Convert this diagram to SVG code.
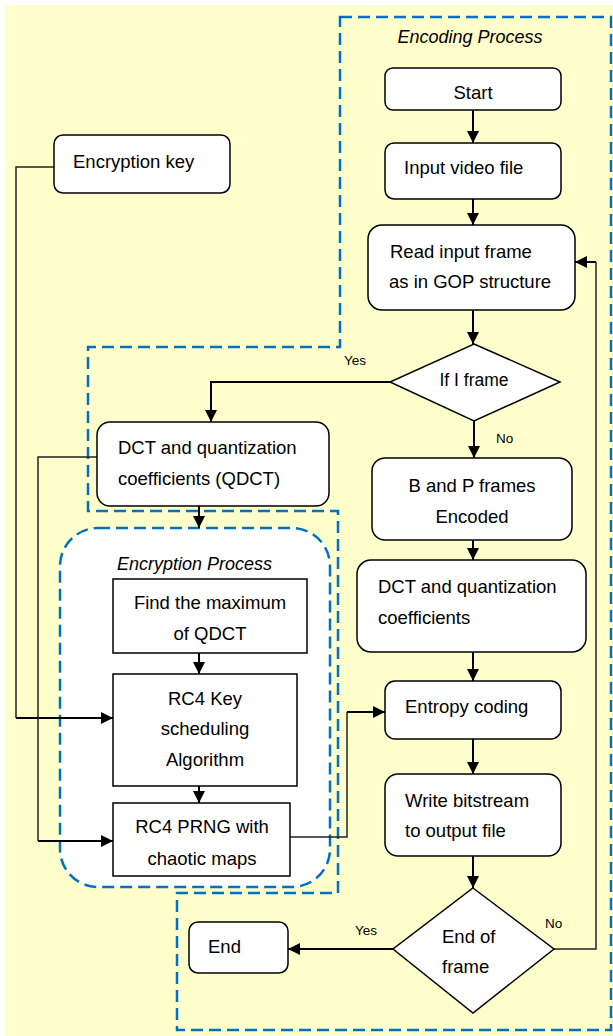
<svg xmlns="http://www.w3.org/2000/svg" width="613" height="1036" viewBox="0 0 613 1036">
<defs>
<marker id="ah" markerUnits="userSpaceOnUse" markerWidth="13" markerHeight="13" refX="12" refY="6" orient="auto">
<path d="M0,0 L12,6 L0,12 z" fill="#000"/>
</marker>
<style>
.t{font-family:"Liberation Sans",Arial,sans-serif;font-size:18.5px;fill:#000}
.c{text-anchor:middle}
.it{font-style:italic;font-size:18px}
.lb{font-family:"Liberation Sans",Arial,sans-serif;font-size:13.5px;fill:#000}
.box{fill:#fff;stroke:#000;stroke-width:1.5}
.dash{fill:none;stroke:#0070C0;stroke-width:2.5;stroke-dasharray:12 6}
.ln{fill:none;stroke:#000;stroke-width:2}
.ar{fill:none;stroke:#000;stroke-width:2;marker-end:url(#ah)}
.thin{fill:none;stroke:#222;stroke-width:1.5}
</style>
</defs>
<rect x="5" y="5" width="608" height="1031" fill="#FFFFCC"/>
<g id="encoding-region">
<polygon class="dash" points="340,17 611,17 611,1030 177,1030 177,893 338,893 338,511 88,511 88,347 340,347"/>
<text class="t it c" x="470" y="43">Encoding Process</text>
</g>
<g id="encryption-region">
<rect x="60" y="528" width="270" height="359" rx="38" ry="38" fill="#fff" stroke="#0070C0" stroke-width="2.5" stroke-dasharray="12 6"/>
<text class="t it" x="117" y="570">Encryption Process</text>
</g>
<g id="connectors">
<path class="ar" d="M473,110 V143"/>
<path class="ar" d="M473,199 V225"/>
<path class="ar" d="M473,310 V344"/>
<path class="ar" d="M474,421 V458"/>
<path class="ar" d="M390,382 H211 V422"/>
<path class="ar" d="M473,540 V560"/>
<path class="ar" d="M473,652 V681"/>
<path class="ar" d="M473,739 V774"/>
<path class="ar" d="M473,856 V888"/>
<path class="ar" d="M393,949 H288"/>
<path class="thin" d="M554,949 H596 V262"/>
<path class="ar" d="M596,262 H575"/>
<path class="thin" d="M54,167 H16 V718"/>
<path class="ar" d="M16,718 H113"/>
<path class="thin" d="M97,457 H38 V841"/>
<path class="ar" d="M38,841 H113"/>
<path class="ar" d="M199,506 V528"/>
<path class="ar" d="M199,653 V674"/>
<path class="ar" d="M199,786 V803"/>
<path class="thin" d="M290,837 H347 V712"/>
<path class="ar" d="M347,712 H385"/>
<text class="lb" x="344" y="365">Yes</text>
<text class="lb" x="496" y="443">No</text>
<text class="lb" x="355" y="935">Yes</text>
<text class="lb" x="545" y="928">No</text>
</g>
<g id="start">
<rect class="box" x="385" y="68" width="176" height="42" rx="8"/>
<text class="t c" x="473" y="99">Start</text>
</g>
<g id="input-video">
<rect class="box" x="385" y="143" width="176" height="56" rx="9"/>
<text class="t" x="404" y="174">Input video file</text>
</g>
<g id="read-frame">
<rect class="box" x="368" y="225" width="207" height="85" rx="14"/>
<text class="t" x="390" y="258">Read input frame</text>
<text class="t" x="389" y="288">as in GOP structure</text>
</g>
<g id="if-i-frame">
<polygon class="box" points="474,344 560,382 474,421 390,382"/>
<text class="t c" x="474" y="386" style="font-size:17.5px">If I frame</text>
</g>
<g id="encryption-key">
<rect class="box" x="54" y="135" width="176" height="58" rx="9"/>
<text class="t" x="73" y="168">Encryption key</text>
</g>
<g id="dct-qdct">
<rect class="box" x="97" y="422" width="232" height="84" rx="13"/>
<text class="t" x="118" y="454">DCT and quantization</text>
<text class="t" x="118" y="485">coefficients (QDCT)</text>
</g>
<g id="find-max">
<rect class="box" x="113" y="579" width="194" height="74"/>
<text class="t c" x="210" y="609">Find the maximum</text>
<text class="t c" x="210" y="640">of QDCT</text>
</g>
<g id="rc4-ksa">
<rect class="box" x="113" y="674" width="184" height="112"/>
<text class="t c" x="205" y="705">RC4 Key</text>
<text class="t c" x="205" y="735">scheduling</text>
<text class="t c" x="205" y="766">Algorithm</text>
</g>
<g id="rc4-prng">
<rect class="box" x="113" y="803" width="177" height="73"/>
<text class="t c" x="202" y="833">RC4 PRNG with</text>
<text class="t c" x="202" y="865">chaotic maps</text>
</g>
<g id="b-p-frames">
<rect class="box" x="372" y="458" width="200" height="82" rx="13"/>
<text class="t c" x="472" y="492">B and P frames</text>
<text class="t c" x="472" y="523">Encoded</text>
</g>
<g id="dct-coeff">
<rect class="box" x="357" y="560" width="229" height="92" rx="14"/>
<text class="t" x="378" y="593">DCT and quantization</text>
<text class="t" x="378" y="624">coefficients</text>
</g>
<g id="entropy">
<rect class="box" x="385" y="681" width="176" height="58" rx="10"/>
<text class="t" x="405" y="713">Entropy coding</text>
</g>
<g id="write-bitstream">
<rect class="box" x="385" y="774" width="176" height="82" rx="13"/>
<text class="t" x="405" y="807">Write bitstream</text>
<text class="t" x="405" y="837">to output file</text>
</g>
<g id="end-of-frame">
<polygon class="box" points="473,888 554,949 473,1013 393,949"/>
<text class="t" x="442" y="943">End of</text>
<text class="t" x="442" y="973">frame</text>
</g>
<g id="end">
<rect class="box" x="189" y="922" width="99" height="51" rx="9"/>
<text class="t" x="208" y="953">End</text>
</g>
</svg>
